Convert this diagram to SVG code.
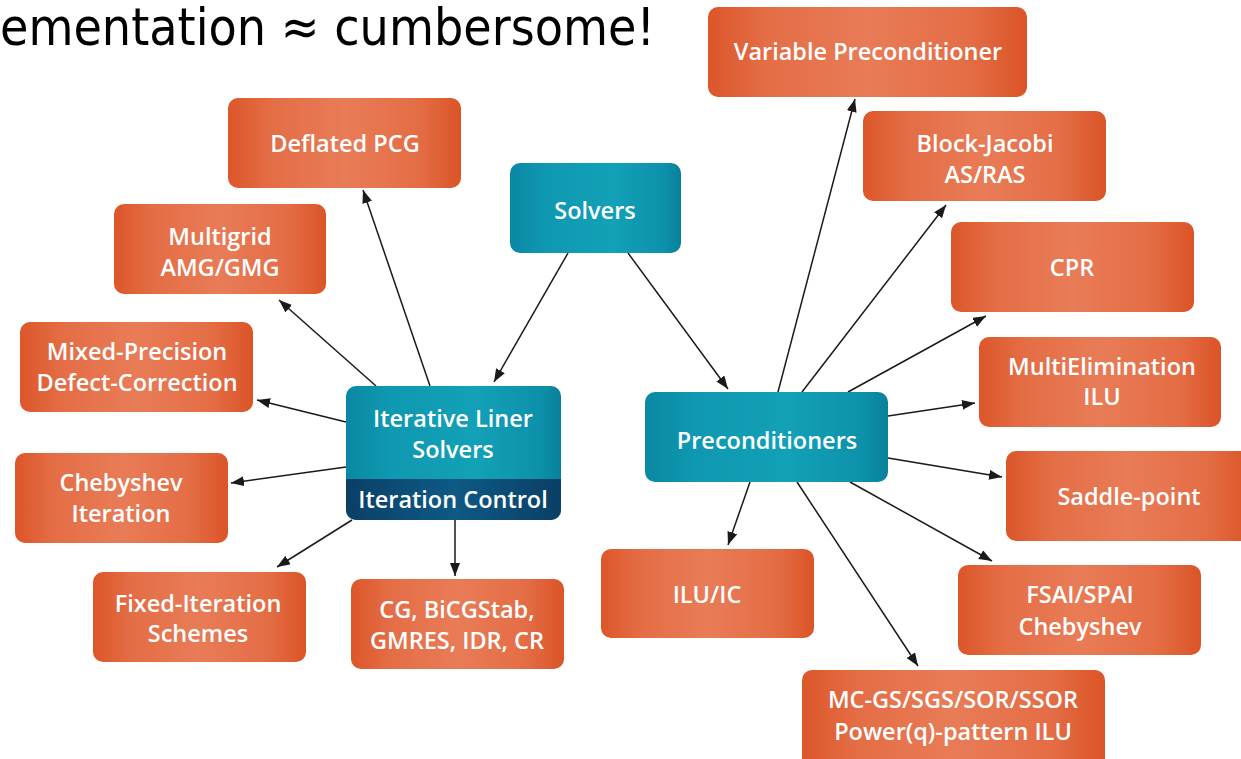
<svg xmlns="http://www.w3.org/2000/svg" width="1241" height="759" viewBox="0 0 1241 759">
<defs>
<linearGradient id="og" x1="0" y1="0" x2="1" y2="0">
<stop offset="0" stop-color="#dc5629"/>
<stop offset="0.18" stop-color="#e46d45"/>
<stop offset="0.5" stop-color="#e87c57"/>
<stop offset="0.82" stop-color="#e46d45"/>
<stop offset="1" stop-color="#db5427"/>
</linearGradient>
<linearGradient id="tg" x1="0" y1="0" x2="1" y2="0">
<stop offset="0" stop-color="#0a88a3"/>
<stop offset="0.2" stop-color="#0f98b1"/>
<stop offset="0.6" stop-color="#12a1b7"/>
<stop offset="0.9" stop-color="#0d91aa"/>
<stop offset="1" stop-color="#08809c"/>
</linearGradient>
<linearGradient id="bg" x1="0" y1="0" x2="1" y2="0">
<stop offset="0" stop-color="#0b3f66"/>
<stop offset="0.5" stop-color="#0d5a85"/>
<stop offset="1" stop-color="#0a3f66"/>
</linearGradient>
<marker id="ah" markerUnits="userSpaceOnUse" markerWidth="14" markerHeight="12" refX="13" refY="5" orient="auto">
<path d="M0,0 L13,5 L0,10 z" fill="#1a1a1a"/>
</marker>
<clipPath id="ilsclip"><rect x="346" y="386" width="215" height="134" rx="10"/></clipPath>
</defs>
<style>
.o{fill:url(#og)}
.t{fill:url(#tg)}
.lb{font-family:"Open Sans","DejaVu Sans",sans-serif;font-size:23.5px;font-weight:600;fill:#fff;text-anchor:middle}
.c line{stroke:#1a1a1a;stroke-width:1.5;marker-end:url(#ah)}
</style>
<rect width="1241" height="759" fill="#fff"/>
<text x="0" y="45" font-family="DejaVu Sans, sans-serif" font-size="52" fill="#000" textLength="655" lengthAdjust="spacingAndGlyphs">ementation ≈ cumbersome!</text>

<g class="c" id="connectors">
<line x1="568" y1="253" x2="494" y2="382"/>
<line x1="628" y1="253" x2="728" y2="389"/>
<line x1="430" y1="386" x2="363" y2="190"/>
<line x1="376" y1="386" x2="279" y2="300"/>
<line x1="346" y1="422" x2="257" y2="400"/>
<line x1="346" y1="467" x2="231" y2="483"/>
<line x1="352" y1="520" x2="277" y2="567"/>
<line x1="455" y1="520" x2="455" y2="576"/>
<line x1="778" y1="392" x2="855" y2="99"/>
<line x1="802" y1="392" x2="946" y2="205"/>
<line x1="848" y1="392" x2="986" y2="316"/>
<line x1="888" y1="416" x2="975" y2="403"/>
<line x1="888" y1="458" x2="1002" y2="477"/>
<line x1="850" y1="482" x2="992" y2="561"/>
<line x1="797" y1="482" x2="918" y2="666"/>
<line x1="750" y1="482" x2="728" y2="545"/>
</g>

<g id="variable"><rect class="o" x="708" y="7" width="319" height="90" rx="10"/><text class="lb" x="868" y="60">Variable Preconditioner</text></g>
<g id="deflated"><rect class="o" x="228" y="98" width="233" height="90" rx="10"/><text class="lb" x="345" y="152">Deflated PCG</text></g>
<g id="solvers"><rect class="t" x="510" y="163" width="171" height="90" rx="10"/><text class="lb" x="595" y="219">Solvers</text></g>
<g id="blockjacobi"><rect class="o" x="863" y="111" width="243" height="90" rx="10"/><text class="lb" x="985" y="152">Block-Jacobi</text><text class="lb" x="985" y="183">AS/RAS</text></g>
<g id="multigrid"><rect class="o" x="114" y="204" width="212" height="90" rx="10"/><text class="lb" x="220" y="245">Multigrid</text><text class="lb" x="220" y="276">AMG/GMG</text></g>
<g id="cpr"><rect class="o" x="951" y="222" width="243" height="90" rx="10"/><text class="lb" x="1072" y="276">CPR</text></g>
<g id="mixed"><rect class="o" x="20" y="322" width="233" height="90" rx="10"/><text class="lb" x="137" y="360">Mixed-Precision</text><text class="lb" x="137" y="391">Defect-Correction</text></g>
<g id="multielim"><rect class="o" x="979" y="337" width="242" height="90" rx="10"/><text class="lb" x="1102" y="375">MultiElimination</text><text class="lb" x="1102" y="405">ILU</text></g>
<g id="iterative">
<g clip-path="url(#ilsclip)"><rect class="t" x="346" y="386" width="215" height="134"/><rect fill="url(#bg)" x="346" y="479" width="215" height="41"/></g>
<text class="lb" x="453" y="427">Iterative Liner</text><text class="lb" x="453" y="458">Solvers</text><text class="lb" x="453" y="508">Iteration Control</text></g>
<g id="precond"><rect class="t" x="645" y="392" width="243" height="90" rx="10"/><text class="lb" x="767" y="449">Preconditioners</text></g>
<g id="saddle"><rect class="o" x="1006" y="451" width="245" height="90" rx="10"/><text class="lb" x="1129" y="505">Saddle-point</text></g>
<g id="chebyshev"><rect class="o" x="15" y="453" width="213" height="90" rx="10"/><text class="lb" x="121" y="491">Chebyshev</text><text class="lb" x="121" y="522">Iteration</text></g>
<g id="iluic"><rect class="o" x="601" y="549" width="213" height="89" rx="10"/><text class="lb" x="707" y="603">ILU/IC</text></g>
<g id="fsai"><rect class="o" x="958" y="565" width="243" height="90" rx="10"/><text class="lb" x="1080" y="603">FSAI/SPAI</text><text class="lb" x="1080" y="635">Chebyshev</text></g>
<g id="fixed"><rect class="o" x="93" y="572" width="213" height="90" rx="10"/><text class="lb" x="198" y="612">Fixed-Iteration</text><text class="lb" x="198" y="642">Schemes</text></g>
<g id="cg"><rect class="o" x="351" y="579" width="213" height="90" rx="10"/><text class="lb" x="457" y="618">CG, BiCGStab,</text><text class="lb" x="457" y="649">GMRES, IDR, CR</text></g>
<g id="mcgs"><rect class="o" x="802" y="670" width="303" height="100" rx="10"/><text class="lb" x="953" y="708">MC-GS/SGS/SOR/SSOR</text><text class="lb" x="953" y="740">Power(q)-pattern ILU</text></g>
</svg>
